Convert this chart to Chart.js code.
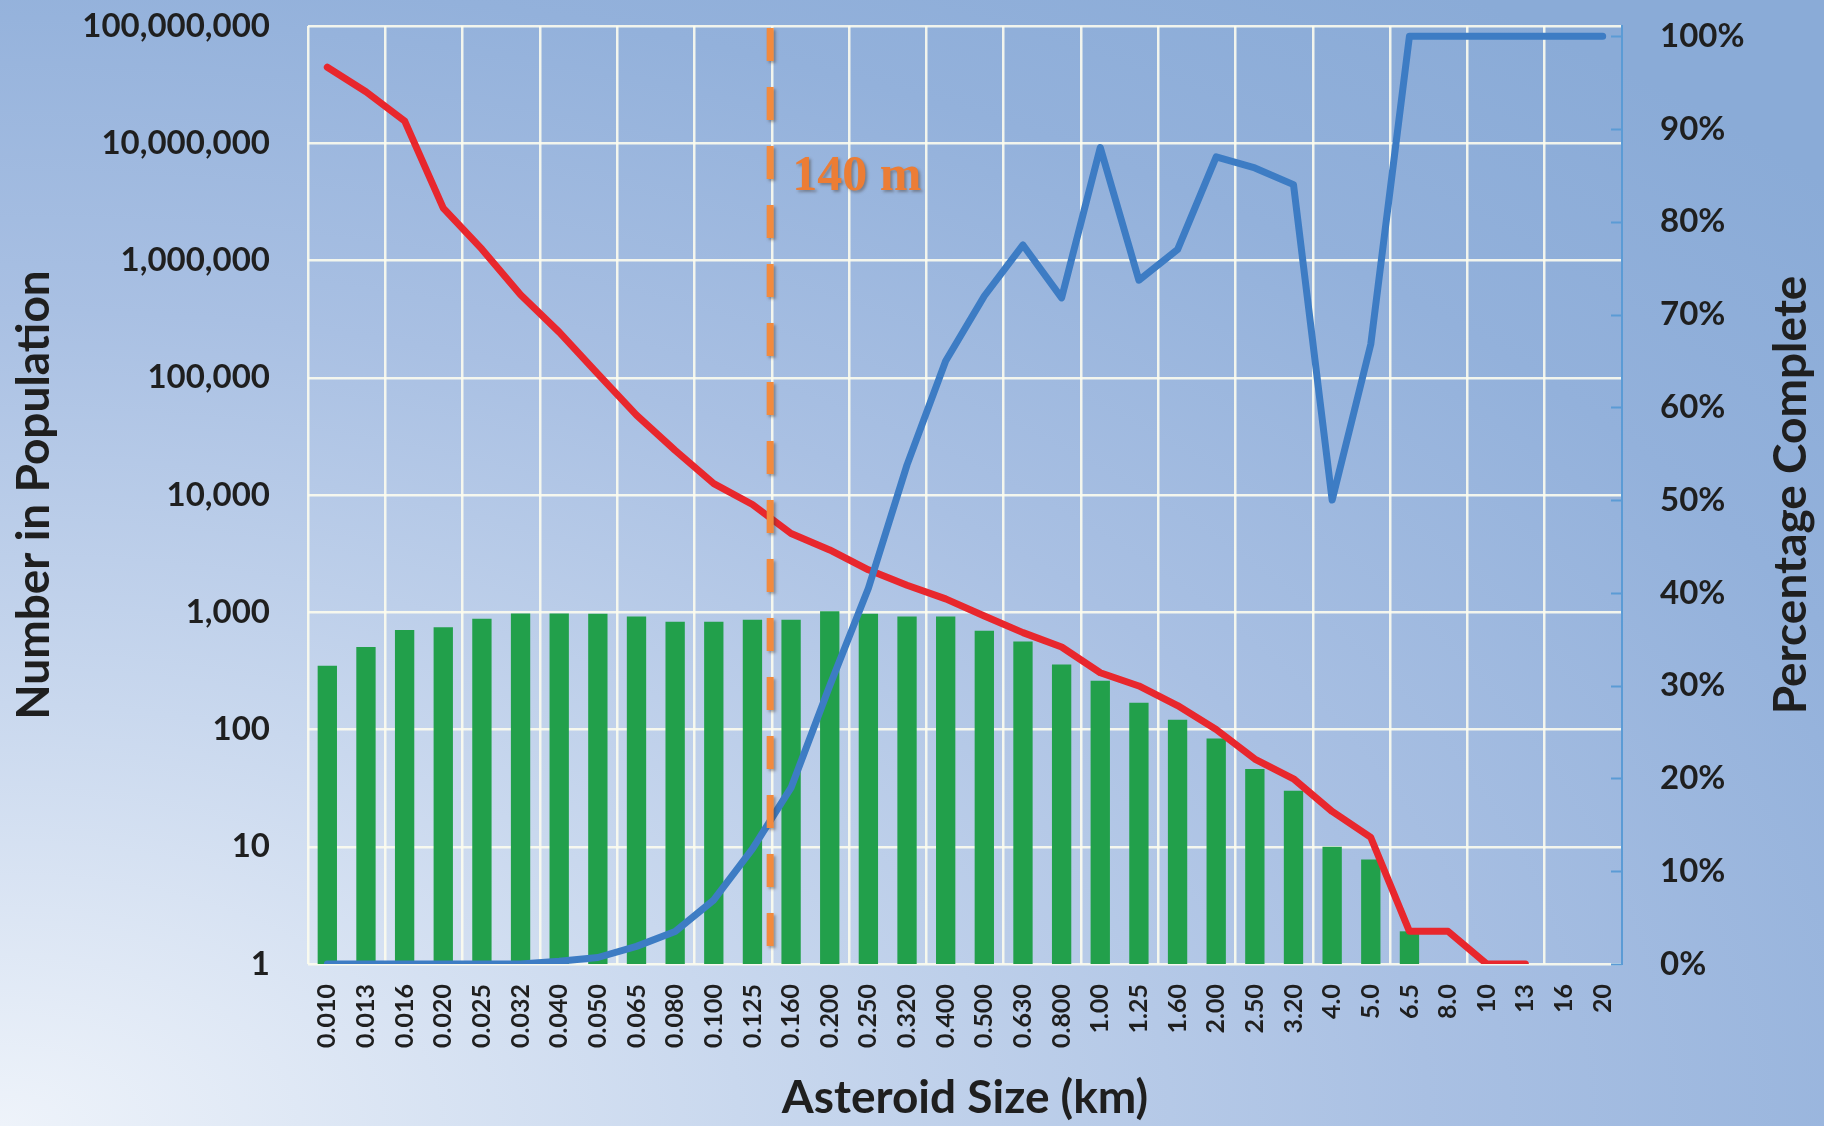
<!DOCTYPE html>
<html>
<head>
<meta charset="utf-8">
<script src="https://cdn.jsdelivr.net/npm/chart.js@4.4.0/dist/chart.umd.min.js"></script>
<style>
  html, body { margin: 0; padding: 0; }
  body {
    width: 1824px; height: 1126px; overflow: hidden;
    background: radial-gradient(ellipse 135% 125% at 0% 100%, #eef3fa 0%, #c9d8ee 30%, #a9c0e3 58%, #93b1db 82%, #8aabd7 100%);
  }
  canvas { display: block; }
</style>
</head>
<body>
<canvas id="chart" width="1824" height="1126"></canvas>
<script>
// asteroid size bins (km)
const sizes = ['0.010','0.013','0.016','0.020','0.025','0.032','0.040','0.050','0.065','0.080',
  '0.100','0.125','0.160','0.200','0.250','0.320','0.400','0.500','0.630','0.800',
  '1.00','1.25','1.60','2.00','2.50','3.20','4.0','5.0','6.5','8.0','10','13','16','20'];

// red line - estimated population
const population = [44500000, 27500000, 15500000, 2800000, 1250000, 510000, 245000, 108000, 48000, 24000,
  12500, 8300, 4700, 3400, 2300, 1700, 1300, 930, 670, 505,
  305, 235, 160, 100, 56, 38, 20, 12, 1.9, 1.9, 1, 1, null, null];

// green bars - known objects
const detected = [349, 505, 705, 745, 880, 975, 975, 970, 920, 830,
  830, 865, 865, 1020, 970, 920, 920, 695, 562, 358,
  261, 169, 121, 84, 46, 30, 10, 7.8, 1.9, null, null, null, null, null];

// blue line - percentage complete
const completeness = [0, 0, 0, 0, 0, 0, 0.3, 0.7, 1.9, 3.5,
  6.9, 12.4, 19, 30, 40.5, 53.8, 65, 72, 77.5, 71.8,
  88, 73.7, 77, 87, 85.8, 84, 50, 66.8, 100, 100, 100, 100, 100, 100];

const popTicks = [1, 10, 100, 1000, 10000, 100000, 1000000, 10000000, 100000000];
const pctTicks = [0, 10, 20, 30, 40, 50, 60, 70, 80, 90, 100];

const markerSize = 0.140;   // 140 m line
const markerLabel = '140 m';

const gridColor = 'rgba(252,252,238,0.9)';
const textColor = '#1f1f1f';
const fontFamily = 'Lato, "Open Sans", sans-serif';

const overlay = {
  id: 'overlay',
  afterDatasetsDraw(chart) {
    const ctx = chart.ctx;
    const area = chart.chartArea;
    const x = chart.scales.x;
    // place the 140 m marker between 0.125 and 0.160 on a log basis
    const i0 = sizes.indexOf('0.125'), i1 = sizes.indexOf('0.160');
    const frac = Math.log(markerSize / parseFloat(sizes[i0])) / Math.log(parseFloat(sizes[i1]) / parseFloat(sizes[i0]));
    const px = x.getPixelForValue(i0) + frac * (x.getPixelForValue(i1) - x.getPixelForValue(i0));

    ctx.save();
    ctx.shadowColor = 'rgba(70,60,50,0.45)';
    ctx.shadowBlur = 3;
    ctx.shadowOffsetX = 2;
    ctx.shadowOffsetY = 2;
    ctx.strokeStyle = '#f28a3e';
    ctx.lineWidth = 7;
    ctx.setLineDash([33, 26]);
    ctx.beginPath();
    ctx.moveTo(px, area.top + 2);
    ctx.lineTo(px, area.bottom - 10);
    ctx.stroke();
    ctx.setLineDash([]);

    ctx.fillStyle = '#ec7d35';
    ctx.font = 'bold 50px "Liberation Serif", "DejaVu Serif", serif';
    ctx.textAlign = 'left';
    ctx.textBaseline = 'alphabetic';
    ctx.fillText(markerLabel, px + 22, area.top + 164);
    ctx.restore();
  },
  afterDraw(chart) {
    const ctx = chart.ctx;
    const area = chart.chartArea;
    const y1 = chart.scales.y1;
    ctx.save();
    // small inward tick marks on the right axis
    ctx.strokeStyle = '#5b9bd5';
    ctx.lineWidth = 2;
    pctTicks.forEach(v => {
      const py = Math.round(y1.getPixelForValue(v)) + 0.5;
      ctx.beginPath();
      ctx.moveTo(area.right - 11, py);
      ctx.lineTo(area.right, py);
      ctx.stroke();
    });
    // right axis title, reading bottom to top
    ctx.translate(1791, (area.top + area.bottom) / 2);
    ctx.rotate(-Math.PI / 2);
    ctx.fillStyle = textColor;
    ctx.font = 'bold 46px ' + fontFamily;
    ctx.textAlign = 'center';
    ctx.textBaseline = 'middle';
    ctx.fillText('Percentage Complete', 0, 0);
    ctx.restore();
  }
};

new Chart(document.getElementById('chart'), {
  data: {
    labels: sizes,
    datasets: [
      {
        type: 'line',
        label: 'Percentage Complete',
        data: completeness,
        yAxisID: 'y1',
        borderColor: '#3d7cc4',
        borderWidth: 7,
        pointRadius: 0,
        tension: 0,
        borderJoinStyle: 'round',
        borderCapStyle: 'round',
        order: 0,
      },
      {
        type: 'line',
        label: 'Population',
        data: population,
        yAxisID: 'y',
        borderColor: '#e8272d',
        borderWidth: 7,
        pointRadius: 0,
        tension: 0,
        borderJoinStyle: 'round',
        borderCapStyle: 'round',
        order: 1,
      },
      {
        type: 'bar',
        label: 'Known',
        data: detected,
        yAxisID: 'y',
        backgroundColor: '#22a04b',
        barPercentage: 0.5,
        categoryPercentage: 1,
        order: 2,
      },
    ],
  },
  options: {
    responsive: false,
    animation: false,
    devicePixelRatio: 1,
    layout: { padding: { top: 26, left: 0, right: 0, bottom: 0 } },
    plugins: {
      legend: { display: false },
      tooltip: { enabled: false },
    },
    scales: {
      x: {
        type: 'category',
        offset: true,
        grid: {
          offset: true,
          drawTicks: false,
          lineWidth: 2.5,
          color: c => (c.index % 2 === 0 ? gridColor : 'rgba(0,0,0,0)'),
        },
        border: { display: false },
        ticks: {
          autoSkip: false,
          maxRotation: 90,
          minRotation: 90,
          padding: 20,
          color: textColor,
          font: { family: fontFamily, weight: 'bold', size: 25 },
        },
        title: {
          display: true,
          text: 'Asteroid Size (km)',
          color: textColor,
          font: { family: fontFamily, weight: 'bold', size: 46 },
          padding: { top: 0, bottom: 0 },
        },
        afterFit: s => { s.height = 162; },
      },
      y: {
        type: 'logarithmic',
        position: 'left',
        min: 1,
        max: 100000000,
        afterBuildTicks: s => { s.ticks = popTicks.map(v => ({ value: v })); },
        grid: { color: gridColor, lineWidth: 2.5, drawTicks: false },
        border: { display: false },
        ticks: {
          padding: 38,
          color: textColor,
          font: { family: fontFamily, weight: 'bold', size: 33 },
          callback: v => Number(v).toLocaleString('en-US'),
        },
        title: {
          display: true,
          text: 'Number in Population',
          color: textColor,
          font: { family: fontFamily, weight: 'bold', size: 46 },
          padding: { top: 7, bottom: 0 },
        },
        afterFit: s => { s.width = 308; s.paddingTop = 20; s.paddingBottom = 20; },
      },
      y1: {
        type: 'linear',
        position: 'right',
        min: 0,
        max: 101.1,
        afterBuildTicks: s => { s.ticks = pctTicks.map(v => ({ value: v })); },
        grid: { drawOnChartArea: false, drawTicks: false },
        border: { display: true, color: '#5b9bd5', width: 2 },
        ticks: {
          padding: 38,
          color: textColor,
          font: { family: fontFamily, weight: 'bold', size: 33 },
          callback: v => v + '%',
        },
        afterFit: s => { s.width = 202; s.paddingTop = 20; s.paddingBottom = 20; },
      },
    },
  },
  plugins: [overlay],
});
</script>
</body>
</html>
